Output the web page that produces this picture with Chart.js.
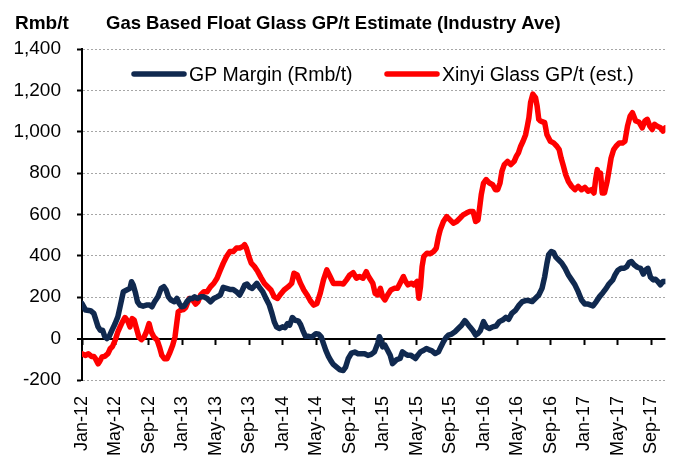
<!DOCTYPE html>
<html>
<head>
<meta charset="utf-8">
<title>Gas Based Float Glass GP/t Estimate</title>
<script src="https://cdn.jsdelivr.net/npm/chart.js@4.4.0/dist/chart.umd.min.js"></script>
<style>
  body { margin: 0; background: #fff; }
  #wrap { width: 681px; height: 459px; }
</style>
</head>
<body>
<div id="wrap"><canvas id="glassChart" width="681" height="459"></canvas></div>
<script>
// Months counted from Jan-12 (0 = Jan-12, 12 = Jan-13, ...)
const gpMonths = [
  0, 0.43, 1.02, 1.41, 1.61, 1.92, 2.19, 2.47, 2.71, 2.98, 3.25, 3.57, 3.96, 4.28, 4.55, 4.94, 5.34, 5.73, 5.92, 6.12,
  6.40, 6.63, 6.91, 7.30, 7.69, 8.08, 8.36, 8.67, 9.07, 9.46, 9.77, 10.05, 10.32, 10.63, 11.03, 11.34, 11.62, 11.89, 12.21, 12.52,
  12.91, 13.19, 13.46, 13.78, 14.17, 14.56, 14.95, 15.35, 15.74, 16.13, 16.53,
  16.88, 17.27, 17.67, 18.06, 18.45, 18.84, 19.16, 19.43, 19.71, 20.02, 20.33, 20.61, 20.88, 21.20, 21.59, 21.98, 22.38, 22.69, 22.97, 23.24,
  23.56, 23.95, 24.26, 24.54, 24.81, 25.13, 25.44, 25.83, 26.11, 26.38, 26.70, 27.09, 27.48, 27.95, 28.27, 28.58, 28.85, 29.13, 29.44, 29.76,
  30.03, 30.42, 30.82, 31.21, 31.49, 31.80, 32.19, 32.59, 32.98, 33.37, 33.77, 34.16, 34.55,
  34.94, 35.33, 35.53, 35.72, 35.92, 36.19, 36.51, 36.82, 37.10, 37.30, 37.61, 38.00, 38.28, 38.55, 38.87, 39.26, 39.57, 39.85, 40.12, 40.44,
  40.83, 41.14, 41.42, 41.81, 42.20, 42.59, 42.87, 43.18, 43.50, 43.77, 44.17, 44.56, 44.95, 45.35, 45.74, 46.01, 46.33, 46.72, 47.03, 47.31,
  47.58, 47.97, 48.29, 48.68, 49.07, 49.47, 49.86, 50.25, 50.64, 50.96, 51.35,
  51.82, 52.22, 52.61, 53.00, 53.39, 53.79, 54.18, 54.57, 54.96, 55.28, 55.55, 55.75, 56.07, 56.34, 56.61, 56.93, 57.32, 57.71, 58.11, 58.50,
  58.89, 59.28, 59.68, 60.07, 60.46, 61.05, 61.44, 61.83, 62.23, 62.62, 62.95, 63.41, 63.68, 63.99, 64.39, 64.78, 65.09, 65.37, 65.64, 65.96,
  66.35, 66.74, 67.06, 67.33, 67.61, 67.92, 68.24, 68.51, 68.79, 69.10, 69.41, 69.69
];
const gpMargin = [
  170, 138, 135, 122, 97, 57, 40, 40, 11, 0, 11, 40, 73, 105, 154, 227, 235, 243, 275, 259,
  219, 178, 162, 157, 162, 162, 154, 178, 202, 243, 251, 235, 202, 186, 178, 194, 170, 154, 157, 178,
  194, 194, 202, 194, 202, 202, 194, 178, 194, 202, 211,
  248, 243, 238, 238, 227, 211, 235, 259, 264, 248, 243, 255, 267, 248, 227, 194, 162, 122, 81, 57,
  49, 57, 53, 73, 65, 102, 89, 86, 68, 40, 11, 11, 8, 24, 21, 8, -24, -57, -86, -109,
  -125, -138, -151, -154, -138, -97, -70, -65, -73, -73, -73, -81, -76,
  -64, -23, 9, -7, -40, -32, -56, -80, -121, -113, -101, -96, -64, -72, -80, -80, -88, -96, -80, -64,
  -56, -48, -53, -59, -72, -64, -40, -15, 6, 17, 22, 33, 49, 65, 87, 74, 57, 38, 17, 25,
  38, 82, 57, 49, 57, 61, 82, 90, 103, 93, 122,
  138, 162, 179, 184, 184, 179, 195, 211, 243, 300, 365, 405, 421, 416, 394, 381, 365, 340, 308, 284,
  260, 227, 187, 167, 167, 158, 179, 203, 222, 243, 264, 284, 308, 329, 340, 340, 348, 368, 373, 357,
  345, 340, 312, 332, 340, 297, 284, 287, 276, 260, 276, 276
];

const xinyiMonths = [
  0, 0.43, 0.74, 1.13, 1.41, 1.61, 1.92, 2.08, 2.39, 2.71, 3.10, 3.37, 3.65, 3.96, 4.28, 4.55, 4.83, 5.14, 5.45, 5.73,
  6.00, 6.24, 6.51, 6.79, 7.10, 7.42, 7.69, 8.01, 8.28, 8.59, 8.99, 9.26, 9.54, 9.85, 10.17, 10.44, 10.83, 11.11, 11.34, 11.50,
  11.81, 12.13, 12.40, 12.80, 13.19, 13.58, 13.85, 14.17, 14.56, 14.95, 15.35, 15.74, 16.13, 16.53,
  16.88, 17.27, 17.67, 18.06, 18.45, 18.84, 19.24, 19.43, 19.63, 19.94, 20.22, 20.61, 21.00, 21.39, 21.79, 22.18, 22.57, 22.97, 23.36, 23.75,
  24.14, 24.65, 25.05, 25.32, 25.71, 26.11, 26.50, 26.89, 27.28, 27.68, 28.07, 28.46, 28.85, 29.25, 29.64, 30.03, 30.42, 30.82, 31.21, 31.60,
  32.00, 32.39, 32.78, 33.17, 33.57, 33.96, 34.23,
  34.74, 35.02, 35.33, 35.65, 35.92, 36.19, 36.51, 36.90, 37.30, 37.69, 38.00, 38.40, 38.67, 38.95, 39.34, 39.65, 40.04, 40.24, 40.44, 40.63,
  40.83, 41.22, 41.61, 42.01, 42.32, 42.59, 42.79, 43.18, 43.58, 43.97, 44.36, 44.76, 45.15, 45.54, 45.93, 46.33, 46.72, 47.03, 47.31, 47.50,
  47.70, 47.97, 48.29, 48.68, 49.07, 49.39, 49.66, 49.94, 50.17, 50.45, 50.84, 51.23, 51.63, 51.90,
  52.14, 52.41, 52.69, 53.00, 53.20, 53.39, 53.59, 53.86, 54.18, 54.37, 54.57, 54.77, 54.96, 55.28, 55.55, 55.95, 56.34, 56.73, 57.01, 57.24,
  57.52, 57.79, 58.11, 58.50, 58.89, 59.28, 59.68, 60.07, 60.46, 60.85, 61.17, 61.36, 61.56, 61.72, 61.95, 62.15, 62.42, 62.74, 62.95, 63.21,
  63.52, 63.80, 64.19, 64.58, 64.86, 65.17, 65.49, 65.76, 66.15, 66.55, 66.94, 67.25, 67.53, 67.84, 68.12, 68.39, 68.71, 69.10, 69.41, 69.69
];
const xinyiGp = [
  -73, -81, -73, -86, -86, -97, -122, -113, -89, -86, -73, -49, -37, -8, 32, 57, 81, 102, 86, 57,
  97, 89, 49, 8, -5, 8, 32, 73, 32, 8, -8, -41, -81, -97, -97, -73, -32, 8, 81, 130,
  138, 141, 151, 194, 189, 167, 178, 211, 227, 227, 251, 267, 292, 332,
  365, 397, 421, 421, 438, 438, 446, 454, 438, 397, 365, 348, 324, 295, 267, 251, 235, 202, 194, 216,
  235, 251, 267, 316, 308, 267, 235, 211, 183, 162, 170, 219, 284, 332, 300, 267, 267, 267, 264, 284,
  308, 319, 292, 300, 292, 324, 300,
  268, 219, 211, 243, 203, 187, 211, 235, 243, 243, 268, 300, 276, 260, 268, 260, 276, 195, 252, 348,
  397, 413, 410, 421, 437, 493, 525, 566, 590, 574, 558, 566, 582, 598, 607, 615, 615, 566, 574, 631,
  696, 752, 769, 752, 744, 720, 720, 752, 809, 841, 857, 841, 857, 882,
  898, 930, 954, 986, 1027, 1067, 1141, 1182, 1165, 1125, 1060, 1052, 1049, 1044, 986, 954, 946, 930, 914, 873,
  833, 792, 760, 736, 720, 736, 720, 731, 713, 720, 704, 768, 817, 784, 800, 704, 704, 760, 809, 873,
  914, 930, 946, 946, 954, 1027, 1076, 1092, 1052, 1047, 1019, 1052, 1060, 1027, 1011, 1036, 1027, 1019, 1003, 1019
];

// x axis ticks every 4 months
const tickMonths = [0, 4, 8, 12, 16, 20, 24, 28, 32, 36, 40, 44, 48, 52, 56, 60, 64, 68];
const tickLabels = ['Jan-12', 'May-12', 'Sep-12', 'Jan-13', 'May-13', 'Sep-13', 'Jan-14', 'May-14', 'Sep-14',
  'Jan-15', 'May-15', 'Sep-15', 'Jan-16', 'May-16', 'Sep-16', 'Jan-17', 'May-17', 'Sep-17'];
const lastMonth = 69.7;

const yMin = -200;
const yMax = 1400;
const yStep = 200;

const chartTitle = 'Gas Based Float Glass GP/t Estimate (Industry Ave)';
const unitLabel = 'Rmb/t';

const navy = '#10294f';
const red = '#ff0000';

Chart.defaults.font.family = '"Liberation Sans", Arial, sans-serif';
Chart.defaults.color = '#000';

// Function to set x ticks to the month list
function setMonthTicks(scale) {
  scale.ticks = tickMonths.map(v => ({ value: v }));
}

// Function to check for the zero line
function isZero(ctx) {
  return ctx.tick && ctx.tick.value === 0;
}

// Title, unit and legend drawn on top of the chart
const chartText = {
  id: 'chartText',
  afterDraw(chart) {
    const ctx = chart.ctx;
    ctx.save();
    ctx.fillStyle = '#000';
    ctx.textBaseline = 'alphabetic';
    ctx.font = 'bold 19px "Liberation Sans", Arial, sans-serif';
    ctx.fillText(unitLabel, 15, 29);
    ctx.font = 'bold 18.5px "Liberation Sans", Arial, sans-serif';
    ctx.fillText(chartTitle, 106, 29);

    const legendX = [134, 387];
    ctx.font = '19.5px "Liberation Sans", Arial, sans-serif';
    chart.data.datasets.forEach((ds, i) => {
      const x = legendX[i];
      ctx.strokeStyle = ds.borderColor;
      ctx.lineWidth = 5.5;
      ctx.lineCap = 'round';
      ctx.beginPath();
      ctx.moveTo(x, 74);
      ctx.lineTo(x + 50, 74);
      ctx.stroke();
      ctx.fillText(ds.label, x + 55, 81);
    });
    ctx.restore();
  }
};

const myChart = new Chart(document.getElementById('glassChart'), {
  type: 'line',
  data: {
    datasets: [
      {
        label: 'GP Margin (Rmb/t)',
        data: gpMonths.map((m, i) => ({ x: m, y: gpMargin[i] })),
        borderColor: navy,
        backgroundColor: navy,
      },
      {
        label: 'Xinyi Glass GP/t (est.)',
        data: xinyiMonths.map((m, i) => ({ x: m, y: xinyiGp[i] })),
        borderColor: red,
        backgroundColor: red,
      }
    ]
  },
  options: {
    responsive: false,
    animation: false,
    layout: { padding: { top: 49, right: 9, bottom: 0, left: 0 } },
    elements: {
      point: { radius: 0 },
      line: { borderWidth: 5.5, tension: 0, borderJoinStyle: 'round', borderCapStyle: 'round', fill: false }
    },
    plugins: {
      legend: { display: false },
      title: { display: false },
      tooltip: { enabled: false }
    },
    scales: {
      x: {
        type: 'linear',
        position: 'bottom',
        min: 0,
        max: lastMonth,
        afterBuildTicks: setMonthTicks,
        afterFit: scale => { scale.height = 79; },
        grid: { display: false },
        border: { display: false },
        ticks: {
          autoSkip: false,
          minRotation: 90,
          maxRotation: 90,
          padding: 8,
          font: { size: 18 },
          callback: (value, index) => tickLabels[index]
        }
      },
      xZero: {
        type: 'linear',
        axis: 'x',
        position: { y: 0 },
        min: 0,
        max: lastMonth,
        afterBuildTicks: setMonthTicks,
        ticks: { display: false },
        grid: { drawOnChartArea: false, tickLength: 6, tickWidth: 2, tickColor: '#000' },
        border: { display: false }
      },
      y: {
        min: yMin,
        max: yMax,
        afterFit: scale => { scale.width = 82; },
        ticks: {
          stepSize: yStep,
          padding: 16,
          font: { size: 19 },
          callback: value => value.toLocaleString('en-US')
        },
        grid: {
          color: ctx => isZero(ctx) ? '#000' : '#a6a6a6',
          lineWidth: ctx => isZero(ctx) ? 2 : 1,
          tickLength: 5,
          tickWidth: 2,
          tickColor: '#000'
        },
        border: {
          display: true,
          color: '#000',
          width: 2,
          dash: ctx => isZero(ctx) ? [] : [2, 2]
        }
      }
    }
  },
  plugins: [chartText]
});
</script>
</body>
</html>
